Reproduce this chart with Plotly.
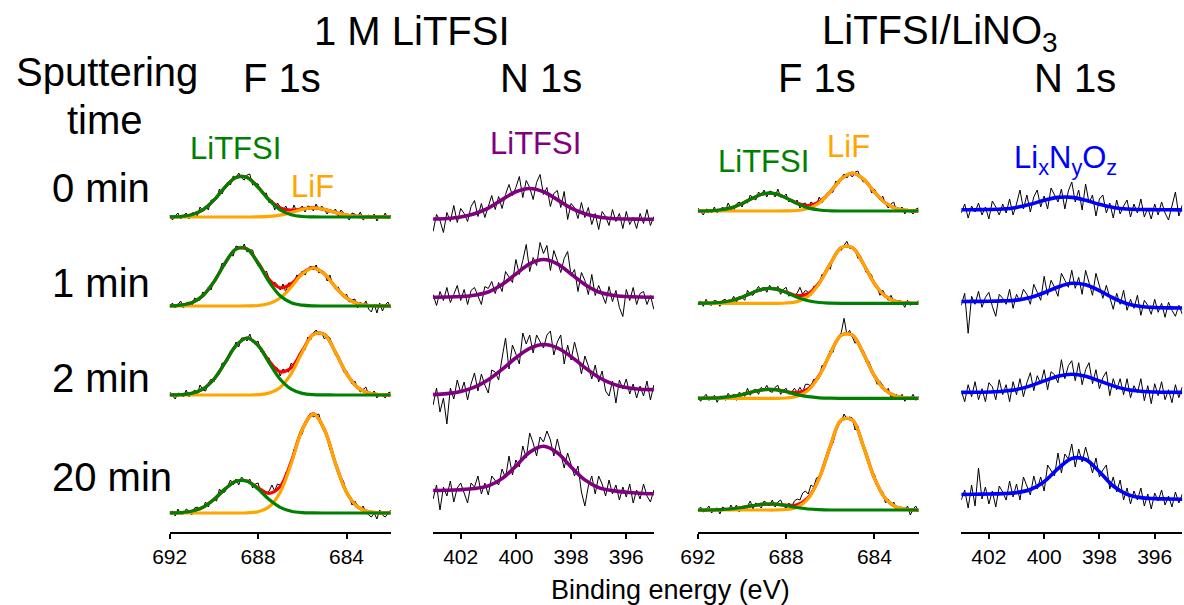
import numpy as np
import plotly.graph_objects as go

# ---------------- energy grids (eV) ----------------
F_FIT_BE = np.linspace(692, 682, 21)   # 0.5 eV steps
F_RAW_BE = np.linspace(692, 682, 81)   # 0.125 eV steps
N_FIT_BE = np.linspace(403, 395, 17)   # 0.5 eV steps
N_RAW_BE = np.linspace(403, 395, 65)   # 0.125 eV steps

times = ["0 min", "1 min", "2 min", "20 min"]

# ---------------- 1 M LiTFSI, F 1s (intensities, a.u.) ----------------
p1_raw_0 = [2,-3,1,4,-2,1,4,-2,4,4, 1,10,6,11,7,17,17,18,28,23, 31,35,32,41,39,44,39,37,42,43,
            32,34,33,25,23,24,14,17,7,14, 10,6,11,6,4,12,5,8,11,5, 11,10,6,13,7,11,7,3,8,5,
            8,1,7,4,0,-3,4,3,0,5, -3,0,2,-2,3,-4,1,-1,4,-2, 2]
p1_raw_1 = [-1,3,-2,1,5,-2,3,4,-1,8, 6,6,14,12,19,16,26,28,34,43, 40,49,51,50,60,59,57,62,54,56,
            56,46,40,41,32,35,27,20,24,21, 16,22,14,23,23,22,31,29,35,31, 37,40,36,41,33,35,34,25,31,21,
            17,19,13,8,12,4,6,7,-2,4, 0,5,-3,-6,2,-7,3,-5,1,4, -2]
p1_raw_2 = [3,-1,-4,2,1,-2,5,-2,2,5, 1,10,5,4,12,16,13,21,21,32, 32,34,44,44,53,48,57,57,54,61,
            53,52,54,43,44,37,37,27,28,27, 19,26,24,23,32,28,35,42,43,45, 58,55,62,65,60,62,56,59,57,47,
            40,39,33,23,24,17,11,14,7,3, 6,8,0,0,4,-3,1,0,-3,2, 3]
p1_raw_3 = [0,2,-3,4,-1,-1,4,2,-2,5, 6,3,5,11,6,13,14,12,24,20, 21,27,33,28,34,28,36,33,31,34,
            25,29,30,20,23,20,22,28,22,29, 28,28,40,44,49,64,67,79,79,91, 95,100,96,98,99,87,82,77,63,61,
            51,39,36,31,19,16,8,12,7,3, 7,1,-2,-4,0,-6,3,-2,-4,-1, 3]

p1_litfsi_0 = [0.1,0.5,2.3,7.1,16.8,29.7,39.6,39.6,29.7,16.8,7.1,2.3,0.5,0.1,0,0,0,0,0,0,0]
p1_litfsi_1 = [0.1,0.8,3.2,10.2,24.1,42.7,56.9,56.9,42.7,24.1,10.2,3.2,0.8,0.1,0,0,0,0,0,0,0]
p1_litfsi_2 = [0.1,0.3,1.6,5.8,15.7,32.1,49.4,57,49.4,32.1,15.7,5.8,1.6,0.3,0.1,0,0,0,0,0,0]
p1_litfsi_3 = [0.1,0.4,1.8,5.7,13.5,23.9,31.8,31.8,23.9,13.5,5.7,1.8,0.4,0.1,0,0,0,0,0,0,0]

p1_lif_0 = [0,0,0,0,0,0,0,0,0.1,0.6,1.9,4.5,7.6,9,7.6,4.5,1.9,0.6,0.1,0,0]
p1_lif_1 = [0,0,0,0,0,0,0,0.1,0.5,2.4,8,19,32,38,32,19,8,2.4,0.5,0.1,0]
p1_lif_2 = [0,0,0,0,0,0,0,0,0.3,1.9,7.6,21.4,42.7,60.4,60.4,42.7,21.4,7.6,1.9,0.3,0]
p1_lif_3 = [0,0,0,0,0,0,0,0.2,1.3,6.2,20.8,49.5,83.3,99,83.3,49.5,20.8,6.2,1.3,0.2,0]

# ---------------- 1 M LiTFSI, N 1s ----------------
p2_raw_0 = [-12,5,-1,-13,7,-2,14,-3,11,6,-2,13,19,3,16,2,13,24,10,23,11,25,35,24,32,43,22,39,32,20,37,45,25,32,13,26,29,12,28,0,16,12,1,17,2,12,-5,6,-10,8,3,-6,10,-2,6,-9,8,-5,2,-9,6,-4,10,-6,3]
p2_raw_1 = [3,-8,6,-3,10,-5,3,12,-3,8,-7,7,10,1,-7,11,9,16,4,15,6,26,20,15,38,23,37,53,26,40,32,55,44,52,27,47,37,25,39,46,22,28,6,25,17,3,23,2,12,2,-6,11,-4,7,-10,-19,8,-3,10,-7,4,6,-7,2,-12]
p2_raw_2 = [-10,7,-17,-3,-29,7,-4,15,2,13,-5,11,22,4,21,10,2,25,23,15,37,57,26,50,41,31,62,51,60,42,60,53,47,60,64,40,53,60,31,50,35,53,39,21,39,29,16,30,13,24,4,-1,14,-8,15,6,16,1,11,-3,9,-1,14,-5,10]
p2_raw_3 = [-4,10,-15,8,-1,14,-7,7,12,2,-8,12,8,19,1,12,0,19,15,10,26,17,39,20,35,28,49,37,62,52,39,58,53,64,55,39,56,41,27,42,31,19,29,3,-11,9,19,1,19,11,-1,15,1,10,-5,8,-2,11,-8,5,-4,11,-1,-7,5]

p2_fit_0 = [0.5,1,2.5,5.8,11.4,19.9,27.7,31,27.7,19.9,11.4,5.8,2.5,1,0.5,0.3,0.2]
p2_fit_1 = [0.3,0.5,1,2.3,5.5,12.9,23.5,33.7,38,33.7,23.5,12.9,5.5,2.3,1,0.5,0.3]
p2_fit_2 = [0.4,1.4,3.6,7.9,15.3,25.6,37.2,46.6,50.5,47.2,38.4,27.4,17.8,11.1,7.4,5.8,5.4]
p2_fit_3 = [4.5,4.7,5.3,6.5,9.1,16.4,28.9,42.8,48.7,42.3,28,15.1,7.4,4.4,2.8,1.8,1.2]

# ---------------- LiTFSI/LiNO3, F 1s ----------------
p3_raw_0 = [3,-1,-4,2,1,-2,4,-2,1,4, 0,8,2,0,7,9,4,10,8,16, 13,11,19,16,21,14,20,19,14,22,
            14,14,17,9,12,8,11,3,7,8, 2,9,7,6,14,8,13,18,18,19, 30,27,33,37,33,37,34,39,40,33,
            29,31,27,18,22,16,11,15,7,3, 7,9,0,1,4,-3,2,0,-3,2, 3]
p3_raw_1 = [0,2,-3,4,-1,-2,3,2,-3,3, 4,0,2,7,1,7,6,3,13,9, 8,13,17,12,16,11,18,15,13,17,
            9,14,16,7,10,8,10,16,9,13, 11,8,17,17,18,29,28,37,34,46, 49,55,53,58,62,55,55,54,45,47,
            40,31,31,28,18,16,8,13,8,3, 8,2,-1,3,1,-4,3,-2,1,-1, 3]
p3_raw_2 = [2,-3,1,4,-2,0,3,-4,2,2, -2,5,1,4,-2,6,4,2,10,3, 8,9,4,11,8,13,7,6,11,13,
            4,8,10,4,6,10,6,11,6,14, 14,12,19,18,20,33,31,39,48,46, 58,60,66,80,64,68,62,55,58,50,
            48,36,37,29,20,14,17,13,7,10, 1,3,4,-1,4,-3,1,-1,4,-2, 2]
p3_raw_3 = [-1,3,-2,0,4,-3,1,2,-4,3, 1,-1,5,0,5,-2,4,2,4,9, 1,7,5,2,9,7,4,10,3,8,
            10,4,2,7,3,9,11,10,17,19, 16,25,23,32,33,37,51,54,66,67, 79,88,88,96,91,93,92,80,84,70,
            62,58,47,36,36,24,21,18,7,11, 5,8,0,2,3,-1,4,-5,1,4, -2]

p3_litfsi_0 = [0,0.2,1,3.1,7.4,13,17.4,17.4,13,7.4,3.1,1,0.2,0,0,0,0,0,0,0,0]
p3_litfsi_1 = [0,0.2,0.8,2.6,6.1,10.9,14.5,14.5,10.9,6.1,2.6,0.8,0.2,0,0,0,0,0,0,0,0]
p3_litfsi_2 = [0,0.1,0.5,1.6,3.7,6.5,8.7,8.7,6.5,3.7,1.6,0.5,0.1,0,0,0,0,0,0,0,0]
p3_litfsi_3 = [0,0,0.3,1,2.5,4.3,5.8,5.8,4.3,2.5,1,0.3,0,0,0,0,0,0,0,0,0]

p3_lif_0 = [0,0,0,0,0,0,0,0,0.1,0.5,2.4,8,19,32,38,32,19,8,2.4,0.5,0.1]
p3_lif_1 = [0,0,0,0,0,0,0,0,0.3,1.7,7,19.7,39.3,55.6,55.6,39.3,19.7,7,1.7,0.3,0]
p3_lif_2 = [0,0,0,0,0,0,0,0,0.3,2,7.9,22.4,44.7,63.2,63.2,44.7,22.4,7.9,2,0.3,0]
p3_lif_3 = [0,0,0,0,0,0,0,0,0.5,2.8,11.3,31.9,63.6,90,90,63.6,31.9,11.3,2.8,0.5,0]

# ---------------- LiTFSI/LiNO3, N 1s ----------------
p4_raw_0 = [-3,6,-8,4,-2,7,-5,3,-9,9,3,-5,6,-3,11,-5,6,20,1,15,-2,13,20,3,14,1,22,15,8,21,1,19,28,8,20,0,26,7,15,-6,11,15,-3,7,-8,10,-4,4,10,-7,6,-3,11,-7,2,-9,6,-5,8,-3,-10,4,18,-6,5]
p4_raw_1 = [3,15,-25,12,4,17,1,11,16,2,-8,14,10,4,19,0,14,7,19,14,4,24,16,8,32,13,28,21,12,35,28,21,38,20,31,14,38,26,13,35,21,10,23,10,-1,15,4,18,-2,9,0,13,-7,8,3,-6,9,-4,5,-9,6,-2,-8,3,-6]
p4_raw_2 = [2,-9,8,-4,11,-7,4,-9,10,6,-7,13,-2,8,-9,11,-2,14,-4,10,20,2,17,9,23,3,21,18,10,33,14,27,32,12,30,8,23,30,9,23,4,15,21,-3,14,3,14,-2,14,-5,7,0,14,-8,7,-11,9,-3,11,-7,3,-10,8,-5,6]
p4_raw_3 = [0,10,-8,15,-6,32,1,13,-4,9,-7,14,8,0,19,3,16,0,23,13,5,24,11,23,9,35,30,24,47,27,46,41,56,33,51,38,53,41,27,42,23,30,35,11,23,8,20,0,12,-4,9,0,12,-6,6,-9,7,-1,10,-5,4,-7,8,-3,6]

p4_fit_0 = [0.2,0.3,0.5,1.0,2.6,5.7,9.7,12.6,12.6,9.7,5.7,2.6,1.0,0.5,0.3,0.2,0.1]
p4_fit_1 = [6.8,6.9,7.0,7.4,8.2,10.8,15.5,21.3,25,23.6,17.7,10.3,4.6,1.8,0.8,0.4,0.3]
p4_fit_2 = [0.3,0.4,0.7,1.4,3.1,6.8,11.8,16.5,18.4,16.5,11.8,6.8,3.1,1.4,0.7,0.4,0.3]
p4_fit_3 = [5.5,5.7,6.0,6.4,7.4,10.5,18.3,31.3,41.6,40.5,28.2,14,5.7,2.4,1.4,1.0,0.7]

# ---------------- stacking offsets (vertical spacing of the rows) ----------------
p1_offsets = [315, 226, 137, 19]
p2_offsets = [312.5, 234.5, 137, 37]
p3_offsets = [321, 228.7, 133.7, 22]
p4_offsets = [322, 223.7, 139.3, 32]

# ---------------- styling ----------------
W, H = 1184, 605
PLOT_BOTTOM = 532
FONT = "Liberation Sans, Arial, sans-serif"
GREEN, ORANGE, RED, PURPLE, BLUE = "#008000", "#FFA500", "#FF0000", "#800080", "#0000FF"
domains_px = [(154.0, 378.5), (421.5, 645.7), (690.3, 914.5), (957.8, 1182.3)]

fig = go.Figure()


def axes_names(k):
    return ("x" if k == 1 else f"x{k}"), ("y" if k == 1 else f"y{k}")


def add_raw(k, be, vals, off):
    xa, ya = axes_names(k)
    fig.add_trace(go.Scatter(x=be, y=np.array(vals, float) + off, mode="lines",
                             line=dict(color="black", width=1), xaxis=xa, yaxis=ya,
                             showlegend=False, hoverinfo="skip"))


def add_fit(k, be, vals, off, color, width=3.2):
    xa, ya = axes_names(k)
    fig.add_trace(go.Scatter(x=be, y=np.array(vals, float) + off, mode="lines",
                             line=dict(color=color, width=width, shape="spline", smoothing=1),
                             xaxis=xa, yaxis=ya, showlegend=False, hoverinfo="skip"))


# F 1s panels
for k, raws, lits, lifs, offs in [
    (1, [p1_raw_0, p1_raw_1, p1_raw_2, p1_raw_3],
        [p1_litfsi_0, p1_litfsi_1, p1_litfsi_2, p1_litfsi_3],
        [p1_lif_0, p1_lif_1, p1_lif_2, p1_lif_3], p1_offsets),
    (3, [p3_raw_0, p3_raw_1, p3_raw_2, p3_raw_3],
        [p3_litfsi_0, p3_litfsi_1, p3_litfsi_2, p3_litfsi_3],
        [p3_lif_0, p3_lif_1, p3_lif_2, p3_lif_3], p3_offsets),
]:
    for raw, lit, lif, off in zip(raws, lits, lifs, offs):
        add_raw(k, F_RAW_BE, raw, off)
        envelope = np.array(lit, float) + np.array(lif, float)
        add_fit(k, F_FIT_BE, envelope, off, RED)
        add_fit(k, F_FIT_BE, lif, off, ORANGE)
        add_fit(k, F_FIT_BE, lit, off, GREEN)

# N 1s panels
for k, raws, fits, offs, col in [
    (2, [p2_raw_0, p2_raw_1, p2_raw_2, p2_raw_3],
        [p2_fit_0, p2_fit_1, p2_fit_2, p2_fit_3], p2_offsets, PURPLE),
    (4, [p4_raw_0, p4_raw_1, p4_raw_2, p4_raw_3],
        [p4_fit_0, p4_fit_1, p4_fit_2, p4_fit_3], p4_offsets, BLUE),
]:
    for raw, fit, off in zip(raws, fits, offs):
        add_raw(k, N_RAW_BE, raw, off)
        add_fit(k, N_FIT_BE, fit, off, col, width=3.6)

layout = dict(
    width=W, height=H,
    margin=dict(l=0, r=0, t=0, b=H - PLOT_BOTTOM, pad=0),
    paper_bgcolor="white", plot_bgcolor="white",
    font=dict(family=FONT, color="black"),
    showlegend=False,
)
for k, (a, b) in enumerate(domains_px, start=1):
    is_f = k in (1, 3)
    xa, ya = axes_names(k)
    xkey = "xaxis" if k == 1 else f"xaxis{k}"
    ykey = "yaxis" if k == 1 else f"yaxis{k}"
    layout[xkey] = dict(
        domain=[a / W, b / W], anchor=ya,
        range=[692, 682] if is_f else [403, 395],
        tickvals=[692, 688, 684] if is_f else [402, 400, 398, 396],
        ticks="outside", ticklen=5, tickwidth=1.5, tickcolor="black",
        showline=True, linecolor="black", linewidth=1.8,
        showgrid=False, zeroline=False,
        tickfont=dict(size=21, family=FONT, color="black"),
    )
    layout[ykey] = dict(domain=[0, 1], anchor=xa, range=[0, PLOT_BOTTOM], visible=False,
                        showgrid=False, zeroline=False)
fig.update_layout(**layout)


def px_x(x):
    return x / W


def px_y(y):
    return (PLOT_BOTTOM - y) / PLOT_BOTTOM


BIG = 40
LAB = 31
texts = [
    ("1 M LiTFSI", 400, 31, BIG, "black", "center"),
    ("LiTFSI/LiNO<sub>3</sub>", 936, 33, BIG, "black", "center"),
    ("Sputtering", 90, 72, BIG, "black", "center"),
    ("time", 88, 120, BIG, "black", "center"),
    ("F 1s", 268, 78, BIG, "black", "center"),
    ("N 1s", 531, 78, BIG, "black", "center"),
    ("F 1s", 811, 78, BIG, "black", "center"),
    ("N 1s", 1073, 78, BIG, "black", "center"),
    (times[0], 33, 188, BIG, "black", "left"),
    (times[1], 33, 283, BIG, "black", "left"),
    (times[2], 33, 378, BIG, "black", "left"),
    (times[3], 33, 477, BIG, "black", "left"),
    ("LiTFSI", 221, 148, LAB, GREEN, "center"),
    ("LiF", 299, 187, LAB, ORANGE, "center"),
    ("LiTFSI", 525, 143, LAB, PURPLE, "center"),
    ("LiTFSI", 757, 161, LAB, GREEN, "center"),
    ("LiF", 843, 147, LAB, ORANGE, "center"),
    ("Li<sub>x</sub>N<sub>y</sub>O<sub>z</sub>", 1064, 160, LAB, BLUE, "center"),
    ("Binding energy (eV)", 663, 590, 27, "black", "center"),
]
for t, x, y, s, c, anc in texts:
    fig.add_annotation(text=t, x=px_x(x), y=px_y(y), xref="paper", yref="paper",
                       xanchor=anc, yanchor="middle", showarrow=False,
                       font=dict(size=s, color=c, family=FONT))

fig.write_html("out.html")
